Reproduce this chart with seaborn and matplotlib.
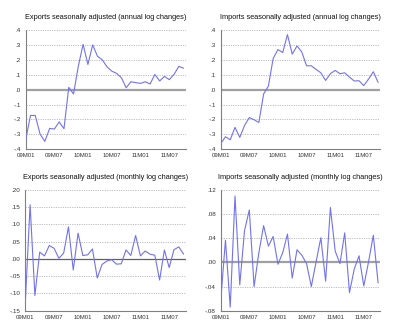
import matplotlib
matplotlib.use("Agg")
import matplotlib.pyplot as plt
import seaborn as sns
import pandas as pd
from matplotlib.ticker import FuncFormatter

months = ["09M01", "09M02", "09M03", "09M04", "09M05", "09M06", "09M07", "09M08", "09M09",
          "09M10", "09M11", "09M12", "10M01", "10M02", "10M03", "10M04", "10M05", "10M06",
          "10M07", "10M08", "10M09", "10M10", "10M11", "10M12", "11M01", "11M02", "11M03",
          "11M04", "11M05", "11M06", "11M07", "11M08", "11M09", "11M10"]
tick_labels = ["09M01", "09M07", "10M01", "10M07", "11M01", "11M07"]

exports_annual = [-0.336, -0.173, -0.173, -0.298, -0.347, -0.260, -0.264, -0.216, -0.262,
                  0.016, -0.029, 0.158, 0.304, 0.169, 0.300, 0.224, 0.200, 0.153,
                  0.124, 0.109, 0.080, 0.013, 0.053, 0.047, 0.042, 0.053, 0.038,
                  0.102, 0.058, 0.089, 0.067, 0.102, 0.156, 0.144]
imports_annual = [-0.362, -0.316, -0.336, -0.253, -0.320, -0.240, -0.187, -0.202, -0.220,
                  -0.029, 0.024, 0.209, 0.269, 0.249, 0.369, 0.238, 0.293, 0.253,
                  0.160, 0.160, 0.136, 0.113, 0.062, 0.107, 0.129, 0.107, 0.113,
                  0.084, 0.058, 0.060, 0.027, 0.071, 0.120, 0.049]
exports_monthly = [-0.127, 0.157, -0.106, 0.020, 0.009, 0.039, 0.031, 0.002, 0.017,
                   0.093, -0.032, 0.075, 0.010, 0.012, 0.029, -0.055, -0.016, -0.006,
                   -0.002, -0.015, -0.014, 0.026, 0.010, 0.068, 0.009, 0.023, 0.014,
                   0.011, -0.061, 0.026, -0.025, 0.027, 0.035, 0.014]
imports_monthly = [-0.064, 0.037, -0.074, 0.110, -0.037, 0.053, 0.087, -0.040, 0.016,
                   0.061, 0.027, 0.043, -0.003, 0.016, 0.047, -0.026, 0.021, 0.012,
                   -0.002, -0.040, 0.001, 0.041, -0.031, 0.091, 0.019, -0.002, 0.049,
                   -0.050, -0.011, 0.011, -0.039, 0.001, 0.045, -0.034]

sns.set_style("white")
plt.rcParams["font.family"] = ["Liberation Sans", "DejaVu Sans"]

W, H = 400, 333
fig = plt.figure(figsize=(W / 100, H / 100), dpi=100)
fig.patch.set_facecolor("white")

LINE = "#7272EE"


def fmt(decimals):
    def f(v, pos):
        s = f"{v:.{decimals}f}"
        if s.startswith("-0."):
            s = "-" + s[2:]
        elif s.startswith("0."):
            s = s[1:]
        if s.startswith("-") and float(s) == 0:
            s = s[1:]
        return s
    return FuncFormatter(f)


panels = [
    ("Exports seasonally adjusted (annual log changes)", exports_annual,
     (25.7, 185.5, 30, 149.3), (-0.4, 0.4), [-0.4, -0.3, -0.2, -0.1, 0.0, 0.1, 0.2, 0.3, 0.4], 1,
     ("#a0a0a0", 1.6)),
    ("Imports seasonally adjusted (annual log changes)", imports_annual,
     (220.7, 380, 30, 149.3), (-0.4, 0.4), [-0.4, -0.3, -0.2, -0.1, 0.0, 0.1, 0.2, 0.3, 0.4], 1,
     ("#a0a0a0", 1.6)),
    ("Exports seasonally adjusted (monthly log changes)", exports_monthly,
     (25.3, 185.5, 190, 310.7), (-0.15, 0.20), [-0.15, -0.10, -0.05, 0.0, 0.05, 0.10, 0.15, 0.20], 2,
     ("#606060", 0.9)),
    ("Imports seasonally adjusted (monthly log changes)", imports_monthly,
     (220.7, 380, 190, 310.7), (-0.08, 0.12), [-0.08, -0.04, 0.0, 0.04, 0.08, 0.12], 2,
     ("#a0a0a0", 1.6)),
]

x = list(range(len(months)))
for title, vals, (l, r, t, b), ylim, yticks, dec, (zc, zw) in panels:
    ax = fig.add_axes([l / W, 1 - b / H, (r - l) / W, (b - t) / H])
    df = pd.DataFrame({"m": x, "v": vals})
    for yv in yticks:
        if abs(yv) > 1e-9:
            ax.axhline(yv, color="#bcbcbc", lw=0.7, ls=(0, (1.2, 1.2)), zorder=0)
    ax.axhline(0, color=zc, lw=zw, zorder=1)
    sns.lineplot(data=df, x="m", y="v", ax=ax, color=LINE, lw=0.8, zorder=3)
    ax.set_xlim(0, 33.4)
    ax.set_ylim(*ylim)
    ax.set_yticks(yticks)
    ax.yaxis.set_major_formatter(fmt(dec))
    ax.set_xticks([0, 6, 12, 18, 24, 30])
    ax.set_xticklabels(tick_labels)
    ax.set_xlabel("")
    ax.set_ylabel("")
    for s in ("top", "right"):
        ax.spines[s].set_visible(False)
    for s in ("left", "bottom"):
        ax.spines[s].set_color("#808080")
        ax.spines[s].set_linewidth(0.8)
    ax.tick_params(axis="y", direction="out", length=2.5, width=0.6, color="#808080",
                   labelsize=4.5, pad=1, labelcolor="#333333")
    ax.tick_params(axis="x", direction="inout", length=3, width=0.6, color="#808080",
                   labelsize=4.3, pad=1.5, labelcolor="#333333")
    ax.set_title(title, fontsize=5.3, pad=8, color="#111111")
    ax.set_facecolor("white")

fig.savefig("out.png", dpi=100, facecolor="white")
